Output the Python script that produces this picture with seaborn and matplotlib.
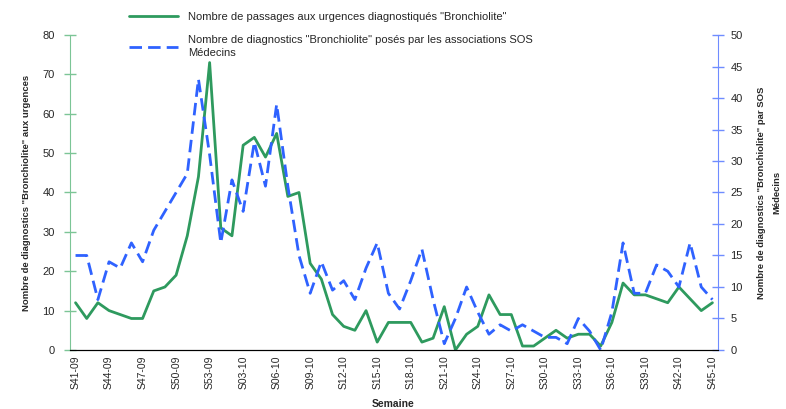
import matplotlib
matplotlib.use('Agg')
import matplotlib.pyplot as plt
import seaborn as sns
import numpy as np

# Weeks S41-09 .. S45-10
weeks = ['S%02d-09' % w for w in range(41, 54)] + ['S%02d-10' % w for w in range(1, 46)]

# Passages aux urgences (left axis)
urgences = [12, 8, 12, 10, 9, 8, 8, 15, 16, 19, 29, 44, 73,
            31, 29, 52, 54, 49, 55, 39, 40, 22, 18, 9, 6, 5, 10, 2, 7, 7,
            7, 2, 3, 11, 0, 4, 6, 14, 9, 9, 1, 1, 3, 5, 3, 4, 4, 1, 7,
            17, 14, 14, 13, 12, 16, 13, 10, 12]

# Diagnostics SOS Medecins (right axis)
sos = [15, 15, 8, 14, 13, 17, 14, 19, 22, 25, 28, 43, 31,
       17, 27, 22, 33, 26, 39, 26, 15, 9, 14, 9.5, 11, 8, 13, 17, 9, 6.5,
       11, 16, 8, 1, 5, 10, 6, 2.5, 4, 3, 4, 3, 2, 2, 1, 5, 3, 0, 6,
       17, 9, 9, 13.5, 12.5, 10, 17, 10, 8]

label_urg = 'Nombre de passages aux urgences diagnostiqués "Bronchiolite"'
label_sos = 'Nombre de diagnostics "Bronchiolite" posés par les associations SOS\nMédecins'

green = '#2e9a5e'
blue = '#2f62ff'

sns.set_style('white')
plt.rcParams['font.family'] = ['Liberation Sans', 'DejaVu Sans']

x = np.arange(len(weeks))

fig, ax = plt.subplots(figsize=(7.86, 4.09), dpi=100)
fig.subplots_adjust(left=0.089, right=0.9135, bottom=0.1443, top=0.9144)
ax2 = ax.twinx()

sns.lineplot(x=x, y=urgences, ax=ax, color=green, linewidth=2.0, label=label_urg, legend=False)
sns.lineplot(x=x, y=sos, ax=ax2, color=blue, linewidth=2.0, label=label_sos, legend=False)
ax2.lines[0].set_dashes([4.5, 2.2])

# axes limits
ax.set_xlim(-0.5, len(weeks) - 0.5)
ax.set_ylim(0, 80)
ax2.set_ylim(0, 50)
ax.set_yticks(np.arange(0, 81, 10))
ax2.set_yticks(np.arange(0, 51, 5))

# x ticks: labels every 3 weeks, tick marks between categories
ax.set_xticks(x[::3])
ax.set_xticklabels(weeks[::3], rotation=90, fontsize=7.5)
ax.set_xticks(np.arange(-0.5, len(weeks), 1), minor=True)
ax.tick_params(axis='x', which='major', length=0, pad=4)
ax.tick_params(axis='x', which='minor', direction='inout', length=7, width=1, color='black')

ax.tick_params(axis='y', direction='inout', length=8, width=1, color='#7cc596', labelsize=8, pad=7)
ax2.tick_params(axis='y', direction='inout', length=8, width=1, color='#6f8cff', labelsize=8, pad=5)

# spines
for a in (ax, ax2):
    a.spines['top'].set_visible(False)
    a.spines['bottom'].set_color('black')
ax.spines['right'].set_visible(False)
ax2.spines['left'].set_visible(False)
ax.spines['left'].set_color('#7cc596')
ax2.spines['right'].set_color('#6f8cff')

# labels
ax.set_ylabel('Nombre de diagnostics "Bronchiolite" aux urgences', fontsize=6.8, fontweight='bold', labelpad=8)
ax2.set_ylabel('Nombre de diagnostics "Bronchiolite" par SOS\nMédecins', fontsize=6.8, fontweight='bold',
               labelpad=10, linespacing=1.9)
fig.text(0.5, 0.012, 'Semaine', fontsize=7.5, fontweight='bold', ha='center', va='center')

# legend on top
handles = ax.get_lines()[:1] + ax2.get_lines()[:1]
leg = fig.legend(handles, [label_urg, label_sos], loc='upper left', bbox_to_anchor=(0.152, 0.995),
                 frameon=False, fontsize=8, handlelength=4.4, handletextpad=0.9, labelspacing=1.15)
for t in leg.get_texts():
    t.set_linespacing(1.45)

plt.savefig('out.png', dpi=100)
